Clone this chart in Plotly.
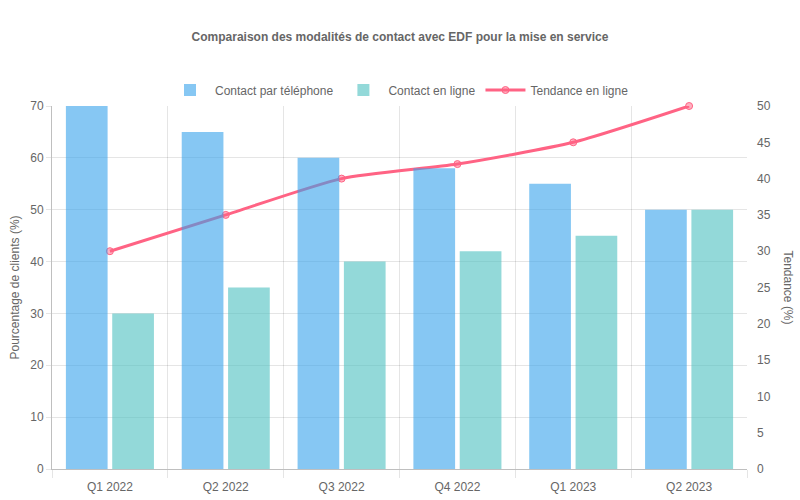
import plotly.graph_objects as go

quarters = ["Q1 2022", "Q2 2022", "Q3 2022", "Q4 2022", "Q1 2023", "Q2 2023"]
telephone = [70, 65, 60, 58, 55, 50]
en_ligne = [30, 35, 40, 42, 45, 50]
tendance = [30, 35, 40, 42, 45, 50]

grey = "#666666"
grid = "rgba(0,0,0,0.1)"
font = "Liberation Sans, Arial, sans-serif"

fig = go.Figure()
# line first on the primary axis so the bars (overlay axis) sit on top of it
fig.add_trace(go.Scatter(
    x=quarters, y=tendance, name="Tendance en ligne", yaxis="y",
    mode="lines+markers", line=dict(color="rgb(255,99,132)", width=3, shape="spline", smoothing=0.6),
    marker=dict(size=7, color="rgba(255,99,132,0.5)", line=dict(color="rgb(255,99,132)", width=1)),
    cliponaxis=False, legendrank=3,
))
fig.add_trace(go.Bar(x=quarters, y=telephone, name="Contact par téléphone", yaxis="y2",
                     marker=dict(color="rgba(54,162,235,0.6)", line_width=0), legendrank=1))
fig.add_trace(go.Bar(x=quarters, y=en_ligne, name="Contact en ligne", yaxis="y2",
                     marker=dict(color="rgba(75,192,192,0.6)", line_width=0), legendrank=2))

fig.update_layout(
    width=800, height=500,
    margin=dict(l=52, r=53, t=106, b=31),
    paper_bgcolor="white", plot_bgcolor="white",
    font=dict(family=font, size=12, color=grey),
    title=dict(text="<b>Comparaison des modalités de contact avec EDF pour la mise en service</b>",
               x=0.5, xanchor="center", y=1 - 37 / 500, yanchor="middle", font=dict(size=12, color=grey)),
    barmode="group", bargap=0.2, bargroupgap=0.1,
    legend=dict(orientation="h", x=0.5, xanchor="center", y=1.044, yanchor="middle",
                font=dict(size=12, color=grey), itemwidth=40, traceorder="normal"),
    xaxis=dict(tickson="boundaries", showgrid=True, gridcolor=grid, ticks="outside", ticklen=8,
               tickcolor=grid, showline=True, linecolor="rgba(0,0,0,0.25)", ticklabelstandoff=7,
               automargin=False, tickfont=dict(size=12, color=grey)),
    yaxis=dict(side="right", range=[0, 50], dtick=5, showgrid=False, zeroline=False, showline=False,
               ticklabelstandoff=9, automargin=False, tickfont=dict(size=12, color=grey)),
    yaxis2=dict(side="left", overlaying="y", range=[0, 70], dtick=10, showgrid=True, gridcolor=grid,
                zeroline=False, showline=True, linecolor="rgba(0,0,0,0.25)", ticks="outside", ticklen=5,
                tickcolor=grid, automargin=False,
                title=dict(text="Pourcentage de clients (%)", font=dict(size=12, color=grey), standoff=8),
                tickfont=dict(size=12, color=grey)),
    annotations=[dict(text="Tendance (%)", xref="paper", yref="paper", x=1, y=0.5, xanchor="center",
                      yanchor="middle", xshift=41, textangle=90, showarrow=False,
                      font=dict(size=12, color=grey))],
)

fig.write_html("out.html", config={"displayModeBar": False},
               post_script="document.body.style.margin='0';")
